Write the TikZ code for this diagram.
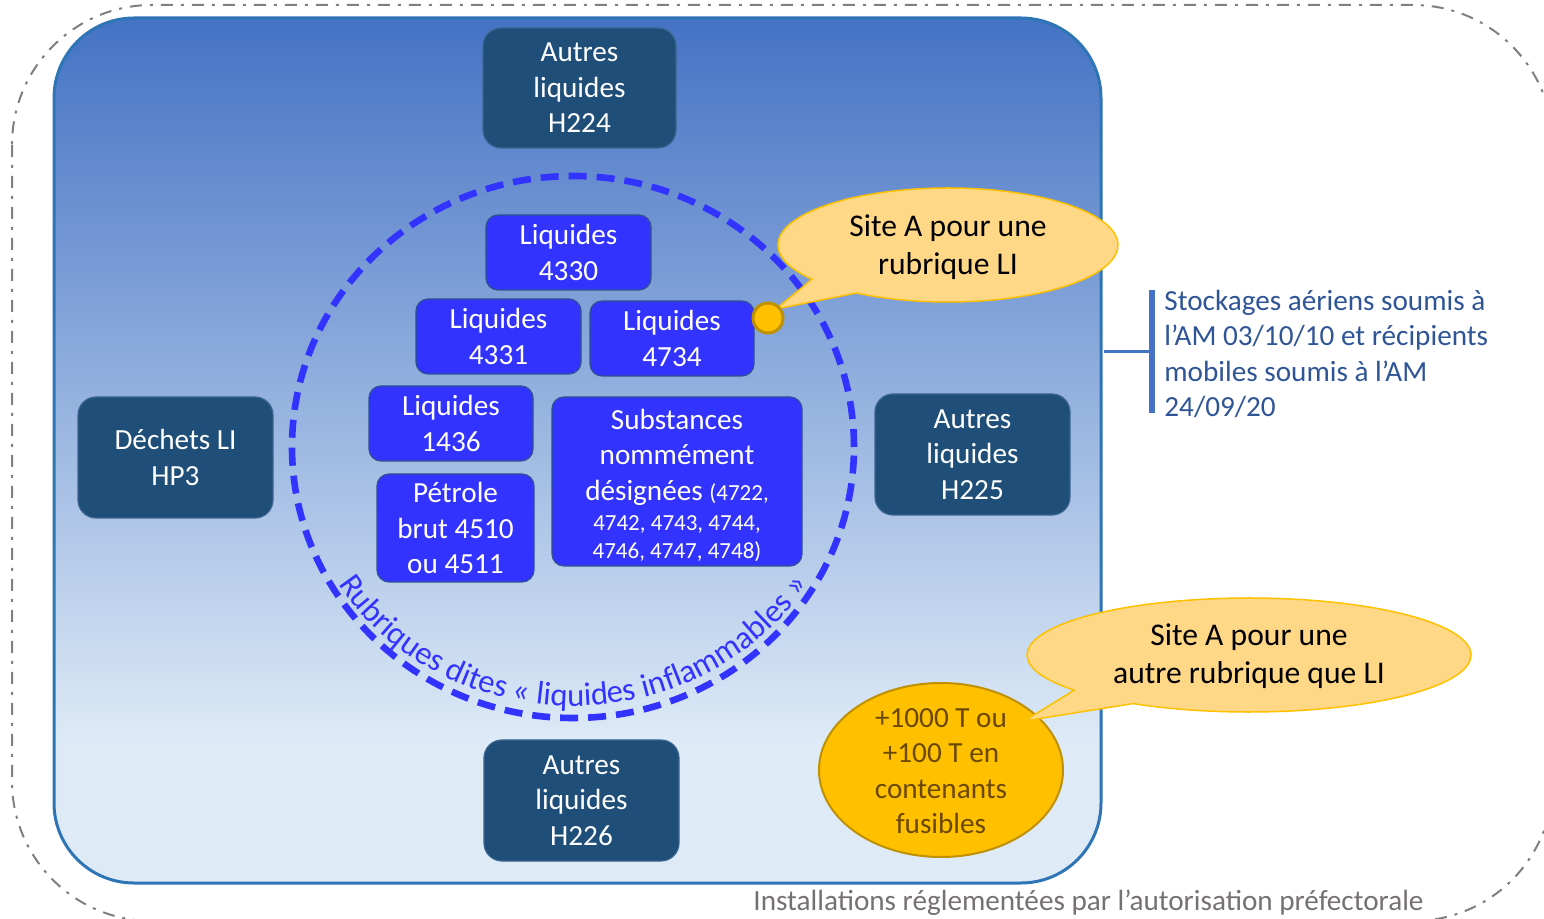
\documentclass[tikz,border=0pt]{standalone}
\usepackage{fontspec}
\setmainfont{Carlito}
\usetikzlibrary{shapes.geometric,decorations.text,calc}
\definecolor{cDark}{HTML}{1F4E79}
\definecolor{cDarkB}{HTML}{3A6590}
\definecolor{cBlue}{HTML}{3333FF}
\definecolor{cBlueB}{HTML}{2F528F}
\definecolor{cCircle}{HTML}{3333FF}
\definecolor{cRectB}{HTML}{2E75B6}
\definecolor{cTop}{HTML}{4472C4}
\definecolor{cLight}{HTML}{DEEBF7}
\definecolor{cCallF}{HTML}{FFD887}
\definecolor{cCallB}{HTML}{FFC000}
\definecolor{cGold}{HTML}{FFC000}
\definecolor{cGoldB}{HTML}{BF9000}
\definecolor{cGoldT}{HTML}{6B4800}
\definecolor{cBr}{HTML}{4472C4}
\definecolor{cBrT}{HTML}{2F5597}
\definecolor{cGray}{HTML}{767171}
\definecolor{cOuter}{HTML}{7F7F7F}
\pgfdeclareverticalshading{bluegrad}{100bp}{color(0bp)=(cLight); color(33bp)=(cLight); color(75bp)=(cTop); color(100bp)=(cTop)}
\begin{document}
\begin{tikzpicture}[x=0.5pt,y=0.5pt,
  txt/.style={font=\fontsize{14.6}{17.75}\selectfont, align=center},
  darkbox/.style={txt, draw=cDarkB, fill=cDark, text=white, rounded corners=9pt, inner sep=0pt, line width=0.6pt},
  bluebox/.style={txt, draw=cBlueB, fill=cBlue, text=white, rounded corners=6pt, inner sep=0pt, line width=0.6pt},
  callout/.style={fill=cCallF, draw=cCallB, line width=0.75pt},
  calltext/.style={font=\fontsize{15.8}{19}\selectfont, align=center, text=black, inner sep=0pt},
  outerline/.style={draw=cOuter, line width=1pt, dash pattern=on 6pt off 4pt on 1.5pt off 4pt}
]
\useasboundingbox (0,0) rectangle (1544,-919);
\clip (0,0) rectangle (1544,-919);

% outer dash-dot frame
\draw[outerline, rounded corners=70pt] (12,-5) rectangle (1553,-921);

% main blue rounded rectangle
\shade[shading=bluegrad, rounded corners=40pt] (54,-18) rectangle (1101,-883);
\draw[cRectB, line width=1.5pt, rounded corners=40pt] (54,-18) rectangle (1101,-883);

% dashed circle
\draw[cCircle, line width=3.3pt, dash pattern=on 9pt off 5pt] (573,-447) ellipse [x radius=281, y radius=271];
\path[decorate, decoration={text along path, text align=center, text color=cCircle,
  text={|\fontsize{16.3}{18}\selectfont|Rubriques dites « liquides inflammables »}}]
  (573,-447) ++(190:277 and 259) arc[start angle=190, end angle=350, x radius=277, y radius=259];

% dark boxes
\node[darkbox, minimum width=96.5pt, minimum height=60pt] (h224) at (579.5,-88) {Autres\\liquides\\H224};
\node[darkbox, minimum width=97.5pt, minimum height=60.5pt] (hp3) at (175.5,-457.5) {Déchets LI\\HP3};
\node[darkbox, minimum width=97.5pt, minimum height=60.5pt] (h225) at (972.5,-454.5) {Autres\\liquides\\H225};
\node[darkbox, minimum width=97.5pt, minimum height=60.5pt] (h226) at (581.5,-800.5) {Autres\\liquides\\H226};

% blue boxes
\node[bluebox, minimum width=82.5pt, minimum height=37.5pt] (l4330) at (568.5,-252.5) {Liquides\\4330};
\node[bluebox, minimum width=82.5pt, minimum height=37.5pt] (l4331) at (498.5,-336.5) {Liquides\\4331};
\node[bluebox, minimum width=82pt, minimum height=37.5pt] (l4734) at (672,-338.5) {Liquides\\4734};
\node[bluebox, minimum width=82pt, minimum height=37.5pt] (l1436) at (451,-423.5) {Liquides\\1436};
\node[bluebox, minimum width=78.5pt, minimum height=54pt] (petr) at (455.5,-528) {Pétrole\\brut 4510\\ou 4511};
\node[bluebox, minimum width=125pt, minimum height=84.5pt] (subst) at (677,-481.5) {};
\node[txt, text=white, inner sep=0pt] (substt) at (677,-485)
  {Substances\\nommément\\désignées {\fontsize{11.5}{14}\selectfont (4722,}\\[-2.75pt]
   {\fontsize{11.5}{14}\selectfont 4742, 4743, 4744,}\\[-3.75pt]
   {\fontsize{11.5}{14}\selectfont 4746, 4747, 4748)}};

% gold ellipse
\node[ellipse, draw=cGoldB, fill=cGold, line width=1pt, minimum width=122pt, minimum height=87pt, inner sep=0pt] (gold) at (941,-770) {};
\node[txt, text=cGoldT, inner sep=0pt] (goldt) at (941,-771) {+1000 T ou\\+100 T en\\contenants\\fusibles};

% callout 1
\draw[callout] (948,-245) ++(237.4:170 and 57) arc[start angle=237.4, end angle=576.87, x radius=170, y radius=57] -- (776,-309) -- cycle;
\node[calltext] (c1) at (948,-247) {Site A pour une\\rubrique LI};
\node[circle, fill=cGold, draw=cGoldB, line width=1.5pt, minimum size=15pt, inner sep=0pt] (dot) at (768,-318) {};

% callout 2
\draw[callout] (1249,-655) ++(238.5:222 and 57) arc[start angle=238.5, end angle=578.07, x radius=222, y radius=57] -- (1024,-721) -- cycle;
\node[calltext] (c2) at (1249,-656) {Site A pour une\\autre rubrique que LI};

% bracket
\coordinate (bra) at (1104,-352);
\coordinate (brb) at (1152,-352);
\coordinate (brt) at (1152,-290);
\coordinate (brd) at (1152,-413);
\draw[cBr, line width=1.5pt] (bra) -- (brb);
\draw[cBr, line width=2.6pt] (brt) -- (brd);
\node[txt, align=left, anchor=west, text=cBrT, inner sep=0pt] (stock) at (1164,-354)
  {Stockages aériens soumis à\\l’AM 03/10/10 et récipients\\mobiles soumis à l’AM\\24/09/20};

% bottom label
\node[txt, text=cGray, inner sep=0pt] (inst) at (1088.5,-903) {Installations réglementées par l’autorisation préfectorale};
\end{tikzpicture}
\end{document}
